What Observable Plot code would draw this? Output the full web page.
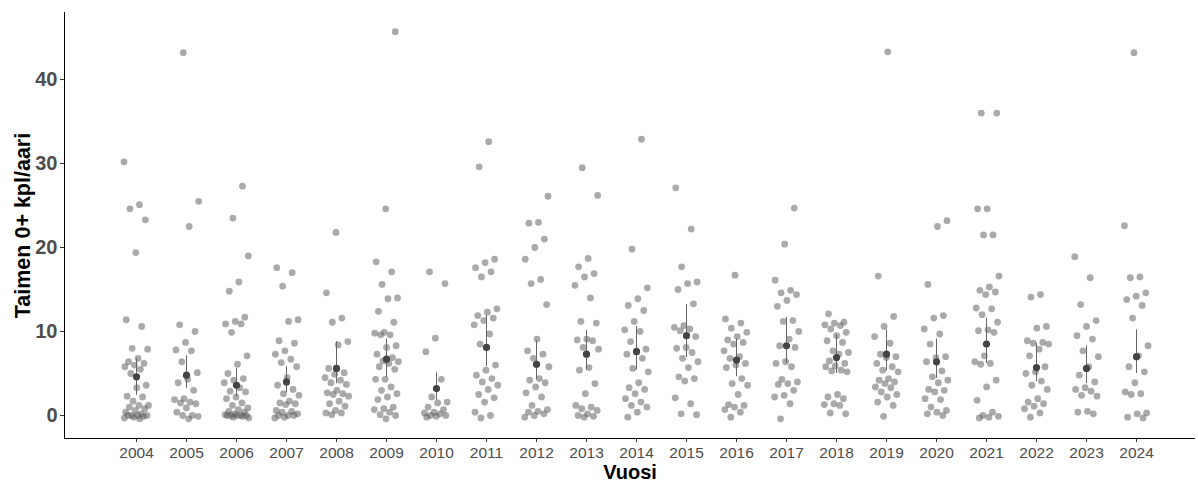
<!DOCTYPE html>
<html>
<head>
<meta charset="utf-8">
<script src="https://cdn.jsdelivr.net/npm/d3@7"></script>
<script src="https://cdn.jsdelivr.net/npm/@observablehq/plot@0.6"></script>
<style>
  body { margin: 0; background: #fff; }
</style>
</head>
<body>
<div id="chart"></div>
<script>
// Survey years (x categories)
const years = [2004, 2005, 2006, 2007, 2008, 2009, 2010, 2011, 2012, 2013, 2014,
               2015, 2016, 2017, 2018, 2019, 2020, 2021, 2022, 2023, 2024];
const yTicks = [0, 10, 20, 30, 40];

// Site densities per year (trout 0+ per are)
const y2004 = [30.2, 25.1, 24.6, 23.3, 19.4, 11.4, 10.6, 8.0, 7.9, 6.8, 6.4, 6.2, 6.0, 5.8, 5.5, 5.0, 3.6, 3.3, 2.3, 2.2, 1.7, 1.2, 1.2, 1.0, 0.8, 0.6, 0.4, 0.2, 0.0, 0.0, 0.0, 0.0, -0.1, -0.2, -0.3, -0.4];
const y2005 = [43.2, 25.5, 22.5, 10.8, 10.0, 8.7, 7.8, 7.7, 6.4, 5.1, 4.3, 3.9, 3.0, 2.0, 1.9, 1.6, 1.5, 1.4, 0.9, 0.4, 0.0, 0.0, -0.1, -0.4];
const y2006 = [27.3, 23.5, 19.0, 15.9, 14.8, 11.7, 11.2, 10.9, 10.9, 9.9, 7.1, 6.1, 5.0, 4.4, 4.2, 3.9, 3.3, 2.9, 2.8, 2.2, 2.0, 1.5, 1.2, 0.9, 0.7, 0.5, 0.4, 0.2, 0.1, 0.0, 0.0, 0.0, 0.0, 0.0, -0.1, -0.2, -0.3];
const y2007 = [17.6, 17.0, 15.4, 11.4, 11.2, 8.9, 8.6, 7.7, 7.3, 6.7, 6.3, 5.8, 4.5, 3.6, 3.1, 2.6, 2.4, 1.7, 1.5, 1.4, 1.3, 0.6, 0.5, 0.4, 0.2, 0.0, 0.0, 0.0, -0.2, -0.3];
const y2008 = [21.8, 14.6, 11.6, 11.1, 8.8, 8.4, 5.6, 5.1, 4.9, 4.5, 4.2, 3.9, 3.7, 3.0, 2.7, 2.6, 2.5, 2.3, 1.7, 1.4, 1.1, 0.6, 0.3, 0.3, 0.1];
const y2009 = [45.7, 24.6, 18.3, 17.1, 15.6, 14.0, 13.9, 12.4, 11.1, 9.9, 9.8, 9.6, 9.6, 8.3, 8.1, 7.3, 6.9, 6.5, 6.4, 6.2, 5.8, 5.5, 4.3, 4.3, 3.4, 3.0, 2.6, 2.2, 1.9, 1.0, 0.8, 0.7, 0.4, 0.1, 0.0, -0.4];
const y2010 = [17.1, 15.7, 9.2, 7.6, 4.3, 2.2, 1.6, 1.5, 1.0, 0.7, 0.4, 0.3, 0.2, 0.0, 0.0, -0.1, -0.2];
const y2011 = [32.6, 29.6, 18.6, 18.2, 17.6, 17.1, 16.5, 12.7, 12.3, 11.9, 11.6, 11.3, 10.8, 9.7, 8.5, 6.0, 5.4, 4.8, 4.4, 4.0, 3.6, 3.1, 2.5, 2.1, 1.6, 0.4, 0.0, -0.3];
const y2012 = [26.1, 23.0, 22.9, 21.0, 20.0, 18.6, 16.2, 15.7, 13.2, 9.1, 7.7, 7.3, 6.8, 5.8, 4.4, 4.2, 3.9, 3.4, 2.7, 2.2, 1.2, 0.7, 0.5, 0.4, 0.2, 0.0, -0.2];
const y2013 = [29.5, 26.2, 18.7, 17.7, 16.9, 16.5, 15.5, 14.0, 11.2, 11.0, 9.1, 9.0, 8.9, 8.1, 7.9, 5.7, 5.4, 3.8, 2.6, 1.2, 1.0, 0.8, 0.6, 0.2, 0.0, -0.1, -0.2];
const y2014 = [32.9, 19.8, 15.2, 13.9, 13.1, 12.5, 11.2, 10.2, 10.0, 8.8, 7.9, 7.7, 7.3, 6.8, 5.6, 5.2, 3.9, 3.3, 3.1, 2.6, 2.0, 1.6, 1.2, 1.0, 0.4, -0.2];
const y2015 = [27.1, 22.2, 17.7, 15.9, 15.7, 15.0, 13.3, 10.7, 10.5, 10.3, 10.1, 9.4, 8.1, 8.0, 7.5, 6.8, 6.4, 5.7, 4.6, 4.4, 4.1, 2.1, 1.4, 0.2, 0.1];
const y2016 = [16.7, 11.5, 11.0, 10.4, 9.9, 9.4, 9.0, 8.7, 8.5, 7.7, 7.0, 6.8, 6.2, 6.0, 5.7, 4.4, 3.8, 3.6, 2.5, 1.3, 1.2, 1.0, 0.7, 0.4, -0.2];
const y2017 = [24.7, 20.4, 16.1, 14.9, 14.6, 14.4, 13.7, 13.0, 11.3, 11.2, 10.0, 9.1, 8.3, 8.1, 6.4, 6.2, 5.8, 4.3, 4.0, 3.8, 3.7, 3.0, 2.4, 2.2, 1.4, -0.4];
const y2018 = [12.1, 11.1, 11.0, 10.8, 10.7, 10.3, 9.9, 9.5, 8.9, 8.7, 7.7, 7.5, 7.3, 6.5, 6.2, 5.9, 5.8, 5.4, 5.3, 5.2, 2.5, 2.2, 2.0, 1.4, 1.3, 1.2, 0.3, 0.2];
const y2019 = [43.3, 16.6, 11.8, 10.6, 9.4, 8.6, 7.3, 7.0, 6.9, 6.2, 5.8, 5.4, 5.2, 4.4, 4.2, 4.0, 3.8, 3.4, 3.3, 2.8, 2.5, 2.2, 1.6, 1.2, -0.1];
const y2020 = [23.2, 22.5, 15.6, 11.9, 11.6, 10.3, 9.7, 8.5, 7.0, 6.9, 6.4, 5.3, 4.6, 4.2, 3.9, 3.1, 3.0, 2.8, 2.0, 1.9, 1.0, 0.6, 0.4, 0.2, 0.0];
const y2021 = [36.0, 36.0, 24.6, 24.6, 21.5, 21.5, 16.6, 15.3, 14.9, 14.7, 14.4, 12.8, 12.7, 12.0, 11.1, 10.2, 10.1, 9.9, 7.1, 6.4, 6.2, 6.1, 4.2, 3.4, 1.8, 0.4, 0.0, -0.1, -0.2, -0.3];
const y2022 = [14.4, 14.1, 10.6, 10.4, 8.9, 8.7, 8.6, 8.5, 7.9, 7.1, 5.8, 5.2, 5.0, 4.1, 3.6, 3.1, 2.0, 1.6, 1.4, 1.1, 0.8, 0.3, -0.2];
const y2023 = [18.9, 16.4, 13.2, 11.3, 10.6, 9.5, 9.1, 7.7, 7.0, 5.8, 4.8, 4.0, 3.3, 3.1, 2.9, 2.4, 2.3, 0.5, 0.4, 0.2];
const y2024 = [43.2, 22.6, 16.5, 16.4, 14.6, 14.2, 13.8, 13.1, 11.6, 8.3, 7.1, 5.8, 5.2, 3.9, 2.8, 2.6, 2.5, 0.3, 0.2, -0.2, -0.3];

// Yearly mean and its confidence interval
const meanValues = [4.6, 4.8, 3.6, 4.0, 5.6, 6.7, 3.2, 8.1, 6.1, 7.3, 7.6, 9.5, 6.6, 8.3, 6.9, 7.3, 6.4, 8.5, 5.7, 5.6, 7.0];
const ciLower    = [2.4, 3.2, 2.2, 2.7, 3.8, 4.5, 1.8, 5.8, 4.3, 5.4, 5.4, 6.9, 4.6, 6.2, 5.0, 5.3, 4.4, 6.2, 4.0, 3.8, 5.0];
const ciUpper    = [6.8, 7.1, 5.6, 5.8, 8.8, 9.1, 5.1, 11.9, 8.9, 10.1, 10.6, 13.2, 9.1, 11.7, 9.6, 10.2, 9.1, 11.6, 8.6, 8.3, 10.2];

const samples = [y2004, y2005, y2006, y2007, y2008, y2009, y2010, y2011, y2012, y2013, y2014,
                 y2015, y2016, y2017, y2018, y2019, y2020, y2021, y2022, y2023, y2024];

// Deterministic horizontal spread (golden-ratio sequence) so points do not overlap
const points = samples.flatMap((vals, k) =>
  vals.map((value, i) => ({
    year: years[k],
    value,
    spread: ((i * 0.618034 + k * 0.37) % 1) - 0.5
  }))
);
const summary = years.map((year, k) => ({ year, mean: meanValues[k], lo: ciLower[k], hi: ciUpper[k] }));

const xDomain = [2002.56, 2025.18];
const yDomain = [-2.74, 47.98];
const font = "'Liberation Sans', Arial, Helvetica, sans-serif";

const chart = Plot.plot({
  width: 1198,
  height: 481,
  marginLeft: 64,
  marginRight: 3,
  marginTop: 12,
  marginBottom: 43,
  style: { fontFamily: font, background: "#fff" },
  x: { type: "linear", domain: xDomain },
  y: { domain: yDomain },
  marks: [
    Plot.dot(points, {
      x: d => d.year + 0.5 * d.spread,
      y: "value",
      r: 3.4,
      fill: "#555",
      fillOpacity: 0.5,
      stroke: "none"
    }),
    Plot.ruleX(summary, { x: "year", y1: "lo", y2: "hi", stroke: "#666", strokeWidth: 1 }),
    Plot.dot(summary, { x: "year", y: "mean", r: 3.6, fill: "#444", stroke: "none" }),
    Plot.axisY({
      ticks: yTicks, tickSize: 4, tickPadding: 3,
      fontSize: 20, fontWeight: "bold", fill: "#4d4d4d", stroke: "#333", label: null
    }),
    Plot.axisX({
      ticks: years, tickFormat: d => String(d), tickSize: 4, tickPadding: 4,
      fontSize: 15.5, fill: "#4d4d4d", stroke: "#333", label: null
    }),
    Plot.ruleX([xDomain[0]], { stroke: "#000", strokeWidth: 1 }),
    Plot.ruleY([yDomain[0]], { stroke: "#000", strokeWidth: 1 }),
    Plot.text(["Taimen 0+ kpl/aari"], {
      text: d => d, frameAnchor: "left", rotate: -90, dx: -41,
      fontSize: 21.5, fontWeight: "bold", fill: "#000", textAnchor: "middle"
    }),
    Plot.text(["Vuosi"], {
      text: d => d, frameAnchor: "bottom", dy: 40,
      fontSize: 20, fontWeight: "bold", fill: "#000", textAnchor: "middle"
    })
  ]
});

document.getElementById("chart").appendChild(chart);
</script>
</body>
</html>
